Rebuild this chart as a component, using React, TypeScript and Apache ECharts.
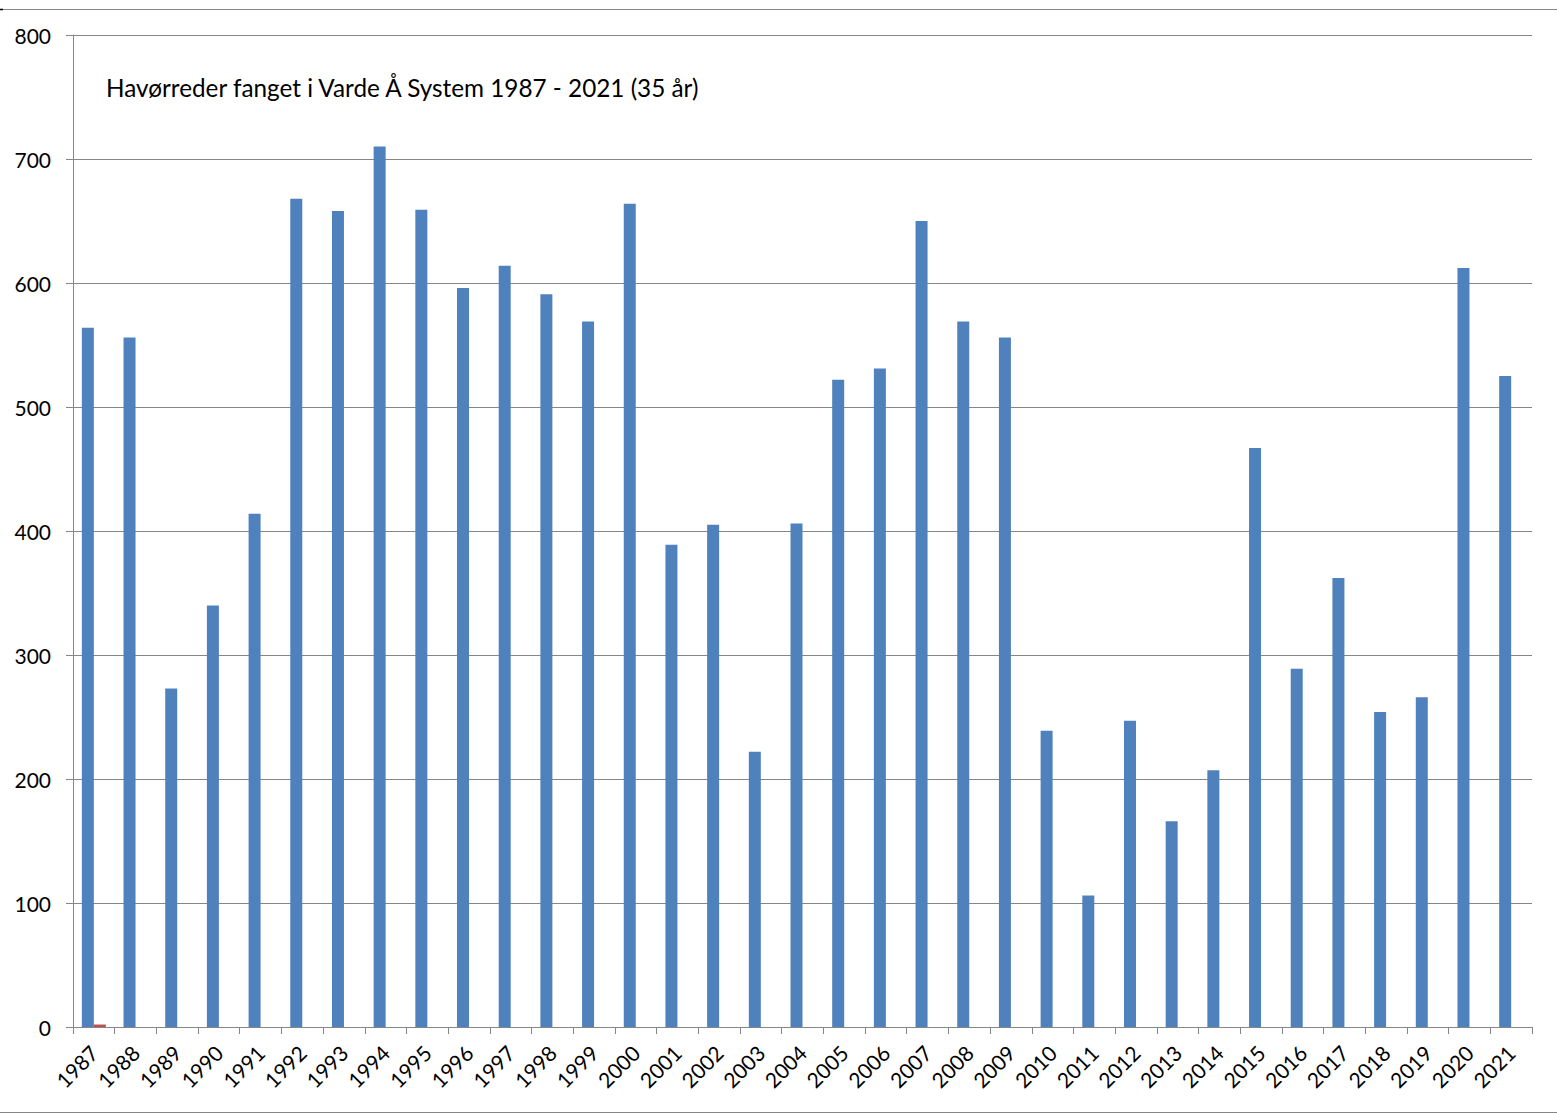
import React, { useEffect, useRef } from "react";
import * as echarts from "echarts";

const years = [
  "1987", "1988", "1989", "1990", "1991", "1992", "1993", "1994", "1995", "1996",
  "1997", "1998", "1999", "2000", "2001", "2002", "2003", "2004", "2005", "2006",
  "2007", "2008", "2009", "2010", "2011", "2012", "2013", "2014", "2015", "2016",
  "2017", "2018", "2019", "2020", "2021",
];
const catches = [
  564, 556, 273, 340, 414, 668, 658, 710, 659, 596,
  614, 591, 569, 664, 389, 405, 222, 406, 522, 531,
  650, 569, 556, 239, 106, 247, 166, 207, 467, 289,
  362, 254, 266, 612, 525,
];
const secondSeries: (number | string)[] = [2, ...new Array(34).fill("-")];
const yTicks = { min: 0, max: 800, interval: 100 };
const titleText = "Havørreder fanget i Varde Å System 1987 - 2021 (35 år)";

export default function App() {
  const ref = useRef<HTMLDivElement>(null);
  useEffect(() => {
    document.body.style.margin = "0";
    const chart = echarts.init(ref.current!, undefined, { renderer: "svg" });
    const font = "Lato, 'Open Sans', sans-serif";
    chart.setOption({
      animation: false,
      backgroundColor: "#ffffff",
      title: {
        text: titleText,
        left: 101,
        top: 70,
        textStyle: { fontFamily: font, fontSize: 24.3, fontWeight: "normal", color: "#000" },
      },
      grid: { left: 73, top: 35, right: 25, bottom: 87, containLabel: false },
      xAxis: {
        type: "category",
        data: years,
        boundaryGap: true,
        axisLine: { show: true, lineStyle: { color: "#868686", width: 1 } },
        axisTick: { show: true, length: 7, alignWithLabel: false, lineStyle: { color: "#868686" } },
        axisLabel: {
          rotate: 45,
          margin: 22,
          interval: 0,
          fontFamily: font,
          fontSize: 21,
          color: "#000",
        },
      },
      yAxis: {
        type: "value",
        min: yTicks.min,
        max: yTicks.max,
        interval: yTicks.interval,
        axisLine: { show: true, lineStyle: { color: "#868686", width: 1 } },
        axisTick: { show: true, length: 7, inside: false, lineStyle: { color: "#868686" } },
        splitLine: { show: true, lineStyle: { color: "#868686", width: 1 } },
        axisLabel: { margin: 22, fontFamily: font, fontSize: 21, color: "#000" },
      },
      series: [
        {
          type: "bar",
          data: catches,
          barWidth: 12,
          barGap: "0%",
          itemStyle: { color: "#4F81BD" },
        },
        {
          type: "bar",
          data: secondSeries,
          barWidth: 12,
          barGap: "0%",
          itemStyle: { color: "#C0504D" },
        },
      ],
      graphic: [
        { type: "line", shape: { x1: 0, y1: 9.5, x2: 1557, y2: 9.5 }, style: { stroke: "#868686", lineWidth: 1 } },
        { type: "line", shape: { x1: 0, y1: 9.5, x2: 3, y2: 9.5 }, style: { stroke: "#000", lineWidth: 1.5 } },
        { type: "line", shape: { x1: 0, y1: 1112.5, x2: 1557, y2: 1112.5 }, style: { stroke: "#868686", lineWidth: 1 } },
      ],
    });
    return () => chart.dispose();
  }, []);
  return <div ref={ref} style={{ position: "absolute", left: 0, top: 0, width: 1557, height: 1114 }} />;
}
